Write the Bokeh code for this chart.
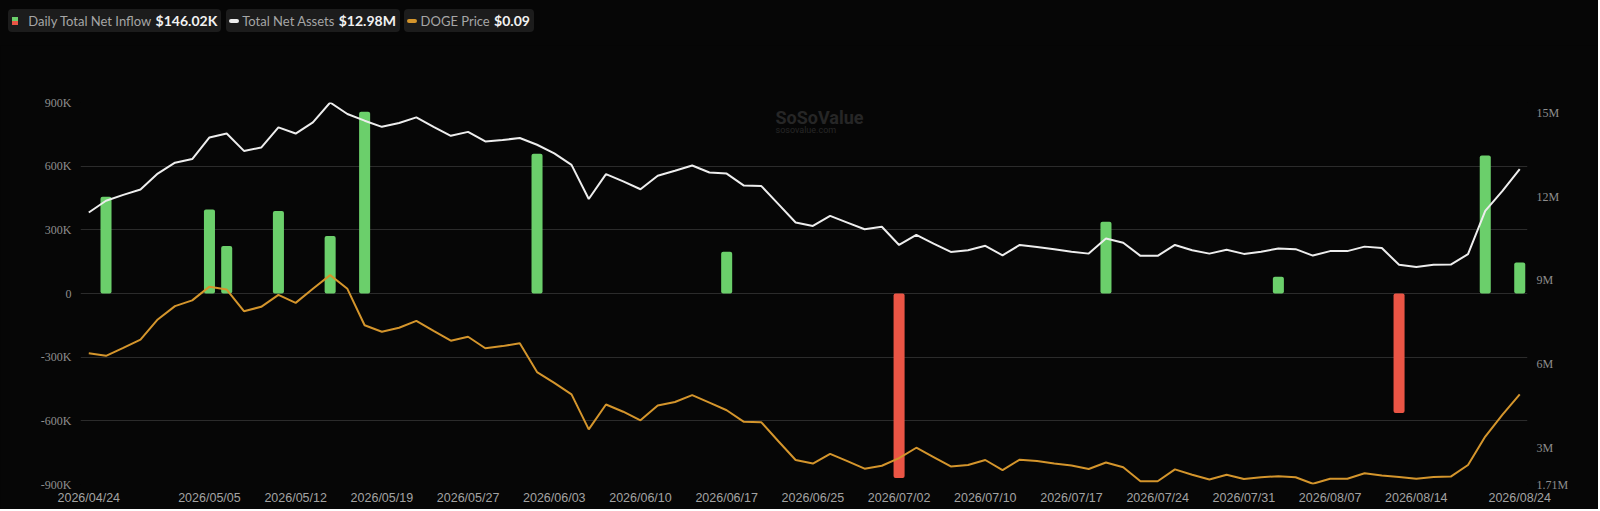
import pandas as pd
from bokeh.plotting import figure
from bokeh.layouts import column
from bokeh.models import (Range1d, LinearAxis, FixedTicker, CustomJSTickFormatter,
                          Label, ColumnDataSource, Div)
from bokeh.embed import file_html
from bokeh.resources import INLINE

# ---------------- data ----------------
holidays = ["2026-05-25", "2026-06-19", "2026-07-03"]
dates = [d.strftime("%Y/%m/%d") for d in pd.bdate_range("2026-04-24", "2026-08-24")
         if d.strftime("%Y-%m-%d") not in holidays]

# Daily Total Net Inflow (thousand USD)
net_inflow_k = [
    0, 456, 0, 0, 0, 0, 0, 396, 224, 0,
    0, 389, 0, 0, 271, 0, 857, 0, 0, 0,
    0, 0, 0, 0, 0, 0, 659, 0, 0, 0,
    0, 0, 0, 0, 0, 0, 0, 197, 0, 0,
    0, 0, 0, 0, 0, 0, 0, -869, 0, 0,
    0, 0, 0, 0, 0, 0, 0, 0, 0, 338,
    0, 0, 0, 0, 0, 0, 0, 0, 0, 79,
    0, 0, 0, 0, 0, 0, -563, 0, 0, 0,
    0, 650, 0, 146.02,
]

# Total Net Assets (million USD)
total_net_assets_m = [
    11.43, 11.85, 12.06, 12.25, 12.82, 13.21, 13.34, 14.11, 14.25, 13.63,
    13.75, 14.47, 14.25, 14.65, 15.36, 14.95, 14.71, 14.49, 14.63, 14.83,
    14.49, 14.17, 14.31, 13.97, 14.02, 14.09, 13.85, 13.54, 13.13, 11.91,
    12.80, 12.54, 12.26, 12.74, 12.92, 13.11, 12.86, 12.82, 12.39, 12.38,
    11.73, 11.07, 10.95, 11.31, 11.07, 10.83, 10.92, 10.27, 10.63, 10.32,
    10.02, 10.08, 10.24, 9.90, 10.27, 10.20, 10.12, 10.03, 9.96, 10.50,
    10.35, 9.88, 9.88, 10.27, 10.08, 9.96, 10.10, 9.95, 10.03, 10.14,
    10.12, 9.89, 10.05, 10.05, 10.21, 10.16, 9.56, 9.48, 9.56, 9.57,
    9.94, 11.49, 12.20, 12.98,
]

# DOGE Price (USD)
doge_price = [
    0.1014, 0.1007, 0.1029, 0.1052, 0.1108, 0.1145, 0.1161, 0.1199, 0.1191, 0.1131,
    0.1143, 0.1176, 0.1154, 0.1193, 0.1231, 0.1193, 0.1092, 0.1074, 0.1085, 0.1104,
    0.1076, 0.1049, 0.1060, 0.1028, 0.1034, 0.1042, 0.0962, 0.0932, 0.0900, 0.0803,
    0.0872, 0.0852, 0.0828, 0.0869, 0.0879, 0.0898, 0.0877, 0.0856, 0.0824, 0.0823,
    0.0770, 0.0718, 0.0708, 0.0735, 0.0715, 0.0694, 0.0702, 0.0723, 0.0752, 0.0726,
    0.0700, 0.0704, 0.0718, 0.0690, 0.0719, 0.0715, 0.0708, 0.0703, 0.0693, 0.0711,
    0.0698, 0.0659, 0.0659, 0.0692, 0.0677, 0.0664, 0.0677, 0.0665, 0.0670, 0.0673,
    0.0670, 0.0652, 0.0666, 0.0666, 0.0681, 0.0675, 0.0671, 0.0666, 0.0671, 0.0672,
    0.0704, 0.0783, 0.0844, 0.0900,
]

tick_labels = ["2026/04/24", "2026/05/05", "2026/05/12", "2026/05/19", "2026/05/27",
               "2026/06/03", "2026/06/10", "2026/06/17", "2026/06/25", "2026/07/02",
               "2026/07/10", "2026/07/17", "2026/07/24", "2026/07/31", "2026/08/07",
               "2026/08/14", "2026/08/24"]
left_ticks = [-900000, -600000, -300000, 0, 300000, 600000, 900000]
right_ticks = [1710000, 3000000, 6000000, 9000000, 12000000, 15000000]
assets_axis_range = (1710000, 15360000)
price_axis_range = (0.065, 0.171)

series_names = ["Daily Total Net Inflow", "Total Net Assets", "DOGE Price"]

# ---------------- styles ----------------
BG = "#060606"
GRID = "#2b2b2b"
GREEN = "#6bcf6b"
RED = "#ea5545"
WHITE = "#ededed"
ORANGE = "#d4952c"
BOX = "#1c1c1c"
AXIS_TXT = "#8e8e8e"
X_TXT = "#a3a3a3"

W = 1598
LEG_H = 45

n = len(dates)
idx = list(range(n))
src = ColumnDataSource(dict(
    x=idx,
    inflow=[v * 1000 for v in net_inflow_k],
    assets=[v * 1e6 for v in total_net_assets_m],
    price=doge_price,
    color=[GREEN if v >= 0 else RED for v in net_inflow_k],
))

# ---------------- main chart ----------------
p = figure(width=W, height=464,
           x_range=Range1d(-0.48, n - 1 + 0.45),
           y_range=Range1d(left_ticks[0], left_ticks[-1]),
           output_backend="svg", toolbar_location=None,
           min_border_left=80, min_border_right=71, min_border_top=57, min_border_bottom=25,
           background_fill_color=BG, border_fill_color=BG, outline_line_color=None)
p.extra_y_ranges = {"assets": Range1d(*assets_axis_range),
                    "price": Range1d(*price_axis_range)}

# left axis
ly = p.yaxis[0]
ly.ticker = FixedTicker(ticks=left_ticks, minor_ticks=[])
ly.formatter = CustomJSTickFormatter(code="return tick == 0 ? '0' : (tick/1000) + 'K';")
# right axis
ry = LinearAxis(y_range_name="assets",
                ticker=FixedTicker(ticks=right_ticks, minor_ticks=[]),
                formatter=CustomJSTickFormatter(code="return (tick/1e6) + 'M';"))
p.add_layout(ry, "right")
for ax in (ly, ry):
    ax.axis_line_color = None
    ax.major_tick_line_color = None
    ax.minor_tick_line_color = None
    ax.major_tick_out = 0
    ax.major_label_text_font = "Liberation Serif"
    ax.major_label_text_font_size = "12px"
    ax.major_label_text_color = AXIS_TXT
    ax.major_label_standoff = 9

# x axis
tick_idx = [dates.index(t) for t in tick_labels]
xa = p.xaxis[0]
xa.ticker = FixedTicker(ticks=tick_idx, minor_ticks=[])
xa.major_label_overrides = {i: t for i, t in zip(tick_idx, tick_labels)}
xa.axis_line_color = None
xa.major_tick_line_color = None
xa.minor_tick_line_color = None
xa.major_tick_out = 0
xa.major_label_standoff = 6
xa.major_label_text_font = "Liberation Sans"
xa.major_label_text_font_size = "12.5px"
xa.major_label_text_color = X_TXT

p.xgrid.visible = False
p.ygrid.grid_line_color = GRID
p.ygrid.grid_line_width = 1

# watermark
p.add_layout(Label(x=695, y=367, x_units="screen", y_units="screen", text="SoSoValue",
                   text_font="Roboto", text_font_style="bold", text_font_size="18px",
                   text_color="#262626", text_baseline="middle"))
p.add_layout(Label(x=695, y=355, x_units="screen", y_units="screen", text="sosovalue.com",
                   text_font="Roboto", text_font_size="9px",
                   text_color="#262626", text_baseline="middle"))

p.vbar(x="x", top="inflow", width=0.64, fill_color="color", line_color=None,
       source=src, border_radius=2)
p.line("x", "assets", y_range_name="assets", line_color=WHITE, line_width=2, source=src)
p.line("x", "price", y_range_name="price", line_color=ORANGE, line_width=2, source=src)

# ---------------- legend strip (HTML, flex so values never collide) ----------------
legend_values = [f"${net_inflow_k[-1]:.2f}K", f"${total_net_assets_m[-1]:.2f}M",
                 f"${doge_price[-1]:.2f}"]

swatches = [
    f'<div style="width:6px;height:8px;background:linear-gradient({GREEN} 50%, {RED} 50%);"></div>',
    f'<div style="width:10px;height:3.6px;background:{WHITE};border-radius:2px;"></div>',
    f'<div style="width:10px;height:3.6px;background:{ORANGE};border-radius:2px;"></div>',
]
label_gap = [10.6, 3.3, 3.3]
pad_left = [3.4, 3.3, 3.0]

items = []
for sw, name, val, g, pl in zip(swatches, series_names, legend_values, label_gap, pad_left):
    items.append(
        f'<div style="display:flex;align-items:center;height:23px;background:{BOX};'
        f'border-radius:4px;padding:0 4px 0 {pl}px;box-sizing:border-box;">'
        f'{sw}'
        f'<span style="margin-left:{g}px;font-family:Lato;font-size:13px;color:#a6a6a6;'
        f'line-height:16px;white-space:nowrap;">{name}</span>'
        f'<span style="margin-left:4.4px;font-family:Lato;font-size:14px;font-weight:700;'
        f'color:#f2f2f2;line-height:16px;white-space:nowrap;">{val}</span>'
        f'</div>')

legend_html = (f'<div style="position:relative;width:{W}px;height:{LEG_H}px;background:{BG};">'
               f'<div style="position:absolute;left:8.3px;top:9.3px;display:flex;gap:4.4px;">'
               + "".join(items) + '</div></div>')
legend_div = Div(text=legend_html, width=W, height=LEG_H, margin=(0, 0, 0, 0),
                 styles={"background-color": BG})

layout = column(legend_div, p, spacing=0, margin=(0, 0, 0, 0),
                styles={"background-color": BG})
open("out.html", "w").write(file_html(layout, INLINE))
